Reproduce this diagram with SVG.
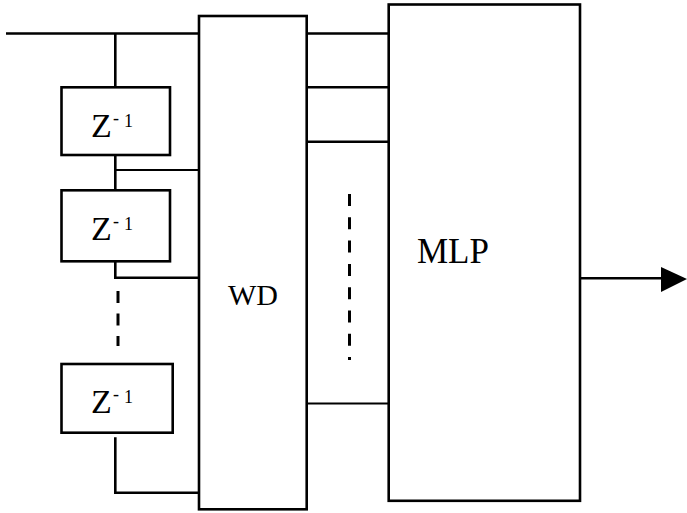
<svg xmlns="http://www.w3.org/2000/svg" width="687" height="513" viewBox="0 0 687 513">
<style>
.box{fill:none;stroke:#000;stroke-width:2.6}
.ln{fill:none;stroke:#000;stroke-width:2.6}
.thin{fill:none;stroke:#000;stroke-width:2}
.dash{fill:none;stroke:#000;stroke-width:3}
text{font-family:"Liberation Serif","Times New Roman",serif;fill:#000}
.z{font-size:34px}
.sup{font-size:18px}
</style>
<rect width="687" height="513" fill="#fff"/>
<g id="connectors">
<path class="ln" d="M6,33.5H198.5M115.3,33.5V87.3"/>
<path class="ln" d="M115.3,155V190.3"/>
<path class="thin" d="M115.3,170H198.5"/>
<path class="ln" d="M115.3,261.3V277.8H198.5"/>
<path class="dash" d="M118,291V346" stroke-dasharray="12 10.5"/>
<path class="ln" d="M115.3,437.3V492.7H198.5"/>
<path class="ln" d="M306.7,33.5H388.7M306.7,87.3H388.7M306.7,141.7H388.7"/>
<path class="thin" d="M306.7,403.5H388.7"/>
<path class="dash" d="M349.5,194V360" stroke-dasharray="12 11.3"/>
<path class="ln" d="M580,278.2H662"/>
<polygon points="661,267 687,279 661,292" fill="#000"/>
</g>
<g id="z1">
<rect class="box" x="61.5" y="87.3" width="108.5" height="67.7"/>
<text x="91" y="137" class="z">Z</text>
<text x="113" y="124" class="sup">-</text>
<text x="124" y="127" class="sup">1</text>
</g>
<g id="z2">
<rect class="box" x="61.5" y="190.3" width="108.5" height="71"/>
<text x="91" y="240" class="z">Z</text>
<text x="113" y="227" class="sup">-</text>
<text x="124" y="230" class="sup">1</text>
</g>
<g id="z3">
<rect class="box" x="61.5" y="364" width="111.2" height="68.7"/>
<text x="91" y="413" class="z">Z</text>
<text x="113" y="400" class="sup">-</text>
<text x="124" y="403" class="sup">1</text>
</g>
<g id="wd">
<rect class="box" x="199" y="16" width="107.7" height="493.3"/>
<text x="228" y="305" font-size="30">WD</text>
</g>
<g id="mlp">
<rect class="box" x="388.7" y="4.5" width="191.3" height="496.3"/>
<text x="417" y="263" font-size="35">MLP</text>
</g>
</svg>
